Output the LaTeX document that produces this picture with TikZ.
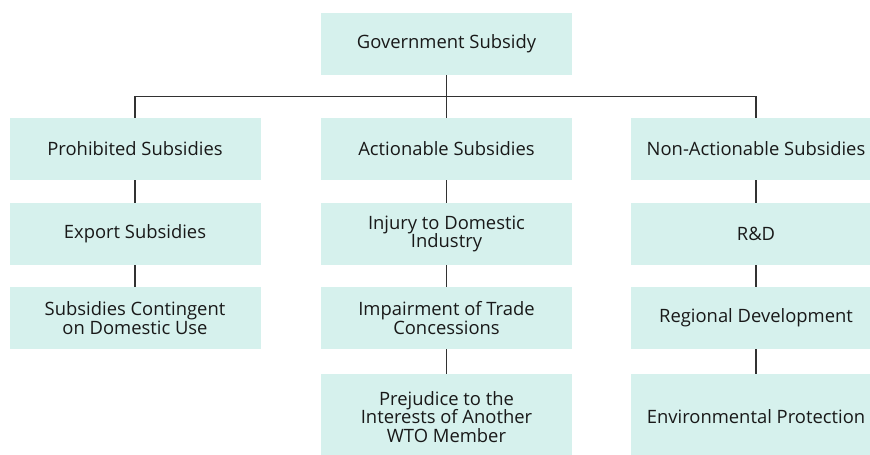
\documentclass[tikz,border=0pt]{standalone}
\usepackage{fontspec}
\setmainfont{Open Sans}
\definecolor{boxfill}{RGB}{214,241,237}
\definecolor{linecol}{RGB}{50,50,50}
\definecolor{textcol}{RGB}{25,25,25}
\begin{document}
\begin{tikzpicture}[x=0.5pt,y=-0.5pt,
  box/.style={fill=boxfill, minimum width=125.5pt, minimum height=31pt, inner sep=0pt,
    align=center, font=\fontsize{9.2}{9.4}\selectfont, text=textcol},
  tall/.style={box, minimum height=43pt},
  conn/.style={draw=linecol, line width=0.75pt}]
\useasboundingbox[fill=white] (0,0) rectangle (870,454);
\begin{scope}
\clip (0,0) rectangle (870,454);
\node[box] (gov) at (446.5,44) {Government Subsidy};
% column 1
\node[box] (p1) at (135,149) {Prohibited Subsidies};
\node[box] (p2) at (135,234) {Export Subsidies};
\node[box] (p3) at (135,318) {Subsidies Contingent\\on Domestic Use};
% column 2
\node[box] (a1) at (446.5,149) {Actionable Subsidies};
\node[box] (a2) at (446.5,234) {Injury to Domestic\\Industry};
\node[box] (a3) at (446.5,318) {Impairment of Trade\\Concessions};
\node[tall] (a4) at (446.5,417) {Prejudice to the\\Interests of Another\\WTO Member};
% column 3
\node[box] (n1) at (756,149) {Non-Actionable Subsidies};
\node[box] (n2) at (756,234) {R\&D};
\node[box] (n3) at (756,318) {Regional Development};
\node[tall] (n4) at (756,417) {Environmental Protection};
\end{scope}
% connectors
\draw[conn] (gov.south) -- (a1.north);
\draw[conn] (p1.north) -- ++(0,-21) -| (n1.north);
\draw[conn] (p1.south) -- (p2.north);
\draw[conn] (p2.south) -- (p3.north);
\draw[conn] (a1.south) -- (a2.north);
\draw[conn] (a2.south) -- (a3.north);
\draw[conn] (a3.south) -- (a4.north);
\draw[conn] (n1.south) -- (n2.north);
\draw[conn] (n2.south) -- (n3.north);
\draw[conn] (n3.south) -- (n4.north);
\end{tikzpicture}
\end{document}
